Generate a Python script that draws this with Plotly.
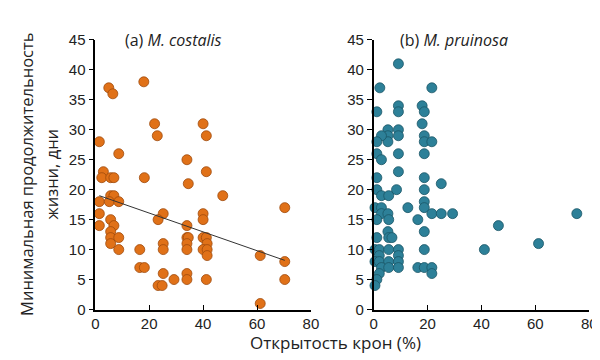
import plotly.graph_objects as go

# (a) M. costalis
costalis_x = [5, 6.5, 18, 22, 23, 40, 41.2, 1.5, 8.7, 34, 41.2, 3, 2.4, 5.7, 6.9, 18.2, 34.5,
              47.3, 5.7, 6.9, 1.5, 5.2, 8.7, 70.3, 1.5, 25.2, 40, 23.3, 5.7, 40,
              1.5, 6.9, 34, 5.7, 5.7, 8.7, 34, 34.5, 40, 41.2, 5.7, 25.2, 34, 41.5,
              8.7, 16.5, 25.2, 34, 40, 41.5, 41.5, 61.2, 70.3, 16.5, 18.2, 25.2, 34,
              23.3, 24.8, 29.2, 34, 41.2, 70.3, 61.2]
costalis_y = [37, 36, 38, 31, 29, 31, 29, 28, 26, 25, 23, 23, 22, 22, 22, 22, 21,
              19, 19, 19, 18, 18, 18, 17, 16, 16, 16, 15, 15, 15,
              14, 14, 14, 13, 12, 12, 12, 12, 12, 12, 11, 11, 11, 11,
              10, 10, 10, 10, 10, 10, 9, 9, 8, 7, 7, 6, 6,
              4, 4, 5, 5, 5, 5, 1]
trend_x = [1.5, 70.3]
trend_y = [19.0, 8.2]

# (b) M. pruinosa
pruinosa_x = [9.2, 2.3, 21.6, 9.2, 9.2, 1.2, 18, 18.8, 18, 5.3, 5.3, 5.3, 2.9, 1.2,
              9.2, 9.2, 18.8, 18.8, 21.6, 1.2, 2.9, 9.2, 18.8, 9.2, 1.2, 18.8, 25.1,
              1.2, 8.5, 18.8, 2.9, 5.6, 18.8, 0.5, 2.9, 12.7, 18.8, 2.9, 5.3, 21.6,
              25.1, 29.3, 75.4, 1.2, 5.6, 16.4, 46.3, 5.3, 18.8, 1.2, 5.6, 6.8, 61.2,
              0.5, 2.1, 5.6, 9.2, 18.8, 41.1, 2.1, 9.2, 0.5, 2.1, 5.6, 9.2,
              2.9, 5.6, 9.2, 16.4, 18.8, 21.6, 2.1, 21.6, 1.2, 0.5]
pruinosa_y = [41, 37, 37, 34, 33, 33, 34, 33, 31, 30, 29, 28, 29, 28,
              30, 29, 29, 28, 28, 26, 25, 26, 26, 23, 22, 22, 21,
              20, 20, 20, 19, 19, 18, 17, 17, 17, 17, 16, 16, 16,
              16, 16, 16, 15, 15, 15, 14, 13, 13, 12, 12, 12, 11,
              10, 10, 10, 10, 10, 10, 9, 9, 8, 8, 8, 8,
              7, 7, 7, 7, 7, 7, 6, 6, 5, 4]

x_ticks = [0, 20, 40, 60, 80]
y_ticks = [0, 5, 10, 15, 20, 25, 30, 35, 40, 45]

orange = "#E07118"
orange_edge = "#9E4A0C"
teal = "#2D8098"
teal_edge = "#1B5566"

fig = go.Figure()
fig.add_trace(go.Scatter(x=costalis_x, y=costalis_y, mode="markers", xaxis="x", yaxis="y",
                         marker=dict(size=10, color=orange, line=dict(color=orange_edge, width=0.8)),
                         cliponaxis=False, showlegend=False))
fig.add_trace(go.Scatter(x=trend_x, y=trend_y, mode="lines", xaxis="x", yaxis="y",
                         line=dict(color="#333333", width=1), showlegend=False))
fig.add_trace(go.Scatter(x=pruinosa_x, y=pruinosa_y, mode="markers", xaxis="x2", yaxis="y2",
                         marker=dict(size=10, color=teal, line=dict(color=teal_edge, width=0.8)),
                         cliponaxis=False, showlegend=False))

tickfont = dict(family="Liberation Sans, Arial", size=15, color="#222")
xaxis_common = dict(showgrid=False, zeroline=False, showline=True, linecolor="black", linewidth=1.5,
                    ticks="inside", ticklen=5, tickcolor="black", tickwidth=1, tickfont=tickfont)
yaxis_common = dict(showgrid=False, zeroline=False, showline=True, linecolor="black", linewidth=1.5,
                    ticks="outside", ticklen=5, tickcolor="black", tickwidth=1, tickfont=tickfont)

fig.update_layout(
    width=600, height=360,
    margin=dict(l=0, r=0, t=0, b=0),
    paper_bgcolor="white", plot_bgcolor="white",
    xaxis=dict(domain=[85/600, 305/600], range=[0, 80], tickvals=x_ticks, anchor="y", **xaxis_common),
    yaxis=dict(domain=[1-307/360, 1-24/360], range=[0, 45], tickvals=y_ticks, anchor="x", **yaxis_common),
    xaxis2=dict(domain=[369/600, 589/600], range=[0, 80], tickvals=x_ticks, anchor="y2", **xaxis_common),
    yaxis2=dict(domain=[1-307/360, 1-24/360], range=[0, 45], tickvals=y_ticks, anchor="x2", **yaxis_common),
)

title_font = dict(family="Open Sans, Noto Sans", size=16, color="#222")
axis_title_font = dict(family="Open Sans, Noto Sans", size=16.5, color="#222")
fig.add_annotation(text="(a) <i>M. costalis</i>", x=29, y=45, xref="x", yref="y",
                   showarrow=False, font=title_font, xanchor="center", yanchor="middle")
fig.add_annotation(text="(b) <i>M. pruinosa</i>", x=30, y=45, xref="x2", yref="y2",
                   showarrow=False, font=title_font, xanchor="center", yanchor="middle")
fig.add_annotation(text="Минимальная продолжительность", x=14/600, y=1-165/360,
                   xref="paper", yref="paper", textangle=-90, showarrow=False,
                   font=axis_title_font, xanchor="center", yanchor="middle")
fig.add_annotation(text="жизни, дни", x=40/600, y=1-165/360,
                   xref="paper", yref="paper", textangle=-90, showarrow=False,
                   font=axis_title_font, xanchor="center", yanchor="middle")
fig.add_annotation(text="Открытость крон (%)", x=330/600, y=1-342/360,
                   xref="paper", yref="paper", showarrow=False,
                   font=dict(family="Open Sans, Noto Sans", size=17, color="#222"),
                   xanchor="center", yanchor="middle")

fig.write_html("out.html")
